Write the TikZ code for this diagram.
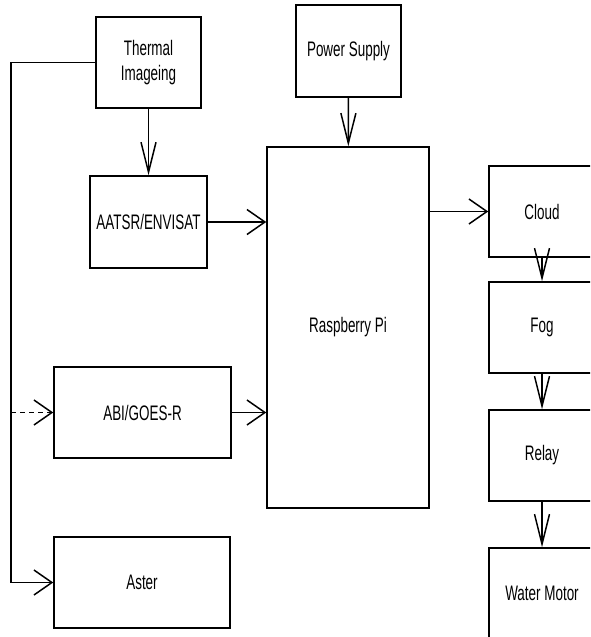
\documentclass[tikz,border=0pt]{standalone}
\usepackage{fontspec}
\setmainfont{Liberation Sans}[FakeStretch=0.64]
\usepackage{tikz}
\usetikzlibrary{
	arrows.meta,
	calc,
	positioning
}

\tikzset{
	block/.style={draw, line width=1.5pt, rectangle, inner sep=0pt,
		font=\fontsize{21}{25}\selectfont, align=center},
	harrow/.style={-{Straight Barb[length=18pt,width=25pt]}},
	varrow/.style={-{Straight Barb[length=30pt,width=15pt]}}
}

\begin{document}
\begin{tikzpicture}[x=1pt, y=-1pt, line width=1.5pt]
	\useasboundingbox (0,0) rectangle (590,637);
	\clip (0,0) rectangle (590,637);
	% left column
	\node[block, minimum width=105pt, minimum height=91pt] (therm) at (148.5,62.5) {Thermal\\Imageing};
	\node[block, minimum width=117pt, minimum height=92pt] (aatsr) at (148.5,222) {AATSR/ENVISAT};
	\node[block, minimum width=177pt, minimum height=91pt] (abi) at (142.5,412.5) {ABI/GOES-R};
	\node[block, minimum width=176pt, minimum height=91pt] (aster) at (142,582.5) {Aster};
	% middle
	\node[block, minimum width=105pt, minimum height=92pt] (power) at (348.5,51) {Power Supply};
	\node[block, minimum width=162pt, minimum height=361pt] (rpi) at (348,327.5) {Raspberry Pi};
	% right column
	\node[block, minimum width=106pt, minimum height=91pt] (cloud) at (542,211.5) {Cloud};
	\node[block, minimum width=106pt, minimum height=91pt] (fog) at (542,327.5) {Fog};
	\node[block, minimum width=106pt, minimum height=91pt] (relay) at (542,455.5) {Relay};
	\node[block, minimum width=106pt, minimum height=91pt] (motor) at (542,593.5) {Water Motor};
	\coordinate (bend) at (11,62.5);

	\draw[varrow] (therm) -- (aatsr);
	\draw[varrow] (power) -- (rpi);
	\draw[harrow] (aatsr) -- (aatsr -| rpi.west);
	\draw[harrow] (abi) -- (abi -| rpi.west);
	\draw[harrow] (rpi.east |- cloud.west) -- (cloud.west);
	\draw[varrow] (cloud) -- (fog);
	\draw[varrow] (fog) -- (relay);
	\draw[varrow] (relay) -- (motor);
	\draw[harrow] (therm.west) -- (bend) |- (aster.west);
	\draw[harrow, dashed, dash pattern=on 5pt off 4pt] (bend |- abi.west) -- (abi.west);
\end{tikzpicture}
\end{document}
